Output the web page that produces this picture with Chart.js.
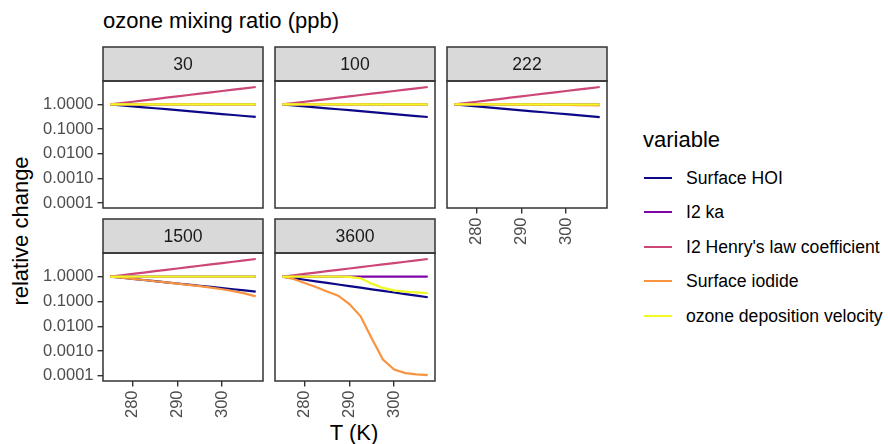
<!DOCTYPE html>
<html>
<head>
<meta charset="utf-8">
<script src="https://cdn.jsdelivr.net/npm/chart.js@4/dist/chart.umd.min.js"></script>
<style>
  body { margin: 0; background: #fff; }
  #wrap { position: relative; width: 888px; height: 444px; overflow: hidden; font-family: "Liberation Sans", Arial, sans-serif; color: #000; }
  #wrap canvas { position: absolute; }
  .txt { position: absolute; white-space: nowrap; line-height: 1; }
  .key { position: absolute; left: 644px; height: 20px; display: flex; align-items: center; font-size: 17.6px; color: #000; white-space: nowrap; }
  .key .swatch { display: inline-block; width: 28px; height: 2px; margin-right: 14px; }
</style>
</head>
<body>
<div id="wrap">
  <div class="txt" style="left:103px; top:10px; font-size:22px;">ozone mixing ratio (ppb)</div>
  <div class="txt" style="left:-79px; top:220px; width:200px; height:22px; text-align:center; font-size:22px; transform:rotate(-90deg);">relative change</div>
  <div class="txt" style="left:254px; top:422px; width:200px; text-align:center; font-size:22px;">T (K)</div>
  <div class="txt" style="left:643px; top:129px; font-size:22px;">variable</div>
</div>
<script>
// temperature (K) on the x axis
const temperature = [275, 277.5, 280, 282.5, 285, 287.5, 290, 292.5, 295, 297.5, 300, 302.5, 305, 307.5];

const ozoneLevels = ['30', '100', '222', '1500', '3600'];
const variableNames = ['Surface HOI', 'I2 ka', "I2 Henry's law coefficient", 'Surface iodide', 'ozone deposition velocity'];
const variableColors = ['#0D0887', '#7E03A8', '#CC4678', '#F89441', '#F0F921'];

const xTicks = [280, 290, 300];
const yTicks = [1, 0.1, 0.01, 0.001, 0.0001];
const yTickLabels = ['1.0000', '0.1000', '0.0100', '0.0010', '0.0001'];

// series (relative change)
const henry = [1, 1.133, 1.285, 1.456, 1.651, 1.871, 2.121, 2.404, 2.725, 3.089, 3.501, 3.969, 4.499, 5.1];
const i2ka = [1, 1, 1, 1, 1, 1, 1, 1, 1, 1, 1, 1, 1, 1];

const hoi30 = [1, 0.914, 0.835, 0.763, 0.698, 0.638, 0.583, 0.533, 0.487, 0.445, 0.406, 0.371, 0.339, 0.31];
const hoi100 = [1, 0.913, 0.834, 0.762, 0.696, 0.636, 0.581, 0.531, 0.485, 0.443, 0.404, 0.369, 0.337, 0.308];
const hoi222 = [1, 0.912, 0.832, 0.759, 0.693, 0.632, 0.577, 0.526, 0.48, 0.438, 0.4, 0.365, 0.333, 0.304];
const hoi1500 = [1, 0.899, 0.808, 0.727, 0.653, 0.587, 0.528, 0.475, 0.427, 0.384, 0.345, 0.31, 0.279, 0.25];
const hoi3600 = [1, 0.863, 0.745, 0.643, 0.555, 0.479, 0.413, 0.357, 0.308, 0.266, 0.229, 0.198, 0.171, 0.147];

const iodide30 = [1, 1, 1, 1, 0.999, 0.999, 0.998, 0.998, 0.997, 0.996, 0.995, 0.994, 0.993, 0.992];
const iodide100 = [1, 1, 0.999, 0.999, 0.998, 0.997, 0.996, 0.994, 0.992, 0.99, 0.987, 0.984, 0.98, 0.976];
const iodide222 = [1, 0.999, 0.998, 0.996, 0.994, 0.99, 0.985, 0.98, 0.972, 0.963, 0.952, 0.94, 0.93, 0.92];
const iodide1500 = [1, 0.9, 0.81, 0.73, 0.65, 0.58, 0.52, 0.46, 0.41, 0.36, 0.31, 0.26, 0.21, 0.16];
const iodide3600 = [1, 0.8, 0.55, 0.38, 0.25, 0.17, 0.078, 0.025, 0.0032, 0.00046, 0.00018, 0.00013, 0.000115, 0.000107];

const depVel30 = [1, 1, 1, 1, 1, 1, 1, 1, 1, 1, 1, 1, 1, 1];
const depVel100 = [1, 1, 1, 1, 1, 1, 1, 1, 1, 1, 1, 1, 1, 1];
const depVel222 = [1, 1, 1, 1, 1, 1, 1, 1, 1, 1, 1, 1, 1, 1];
const depVel1500 = [1, 1, 1, 1, 1, 1, 1, 1, 1, 1, 1, 1, 1, 1];
const depVel3600 = [1, 1, 1, 1, 1, 0.995, 0.975, 0.85, 0.52, 0.35, 0.28, 0.25, 0.23, 0.215];

const panelSeries = {
  '30': [hoi30, i2ka, henry, iodide30, depVel30],
  '100': [hoi100, i2ka, henry, iodide100, depVel100],
  '222': [hoi222, i2ka, henry, iodide222, depVel222],
  '1500': [hoi1500, i2ka, henry, iodide1500, depVel1500],
  '3600': [hoi3600, i2ka, henry, iodide3600, depVel3600],
};

const FONT = '"Liberation Sans", Arial, sans-serif';
const TICK_SIZE = 16.5;
const PLOT_W = 160;
const colLeft = [103, 275, 447];
const rowTop = [81, 253];
const rowHeight = [127, 128];
const STRIP_H = 34;
const Y_AXIS_W = 66;
const X_AXIS_H = 48;

const wrap = document.getElementById('wrap');

// grey strip + dark panel border, like ggplot's theme_bw facets
const facetFrame = {
  id: 'facetFrame',
  afterDatasetsDraw(chart, args, opts) {
    const { ctx, chartArea: a } = chart;
    ctx.save();
    ctx.fillStyle = '#D9D9D9';
    ctx.fillRect(a.left, a.top - STRIP_H, a.width, STRIP_H);
    ctx.strokeStyle = '#333333';
    ctx.lineWidth = 1.5;
    ctx.strokeRect(a.left, a.top - STRIP_H, a.width, STRIP_H);
    ctx.strokeRect(a.left, a.top, a.width, a.height);
    ctx.fillStyle = '#1A1A1A';
    ctx.font = '17.6px ' + FONT;
    ctx.textAlign = 'center';
    ctx.textBaseline = 'middle';
    ctx.fillText(opts.label, (a.left + a.right) / 2, a.top - STRIP_H / 2 + 1);
    ctx.restore();
  }
};

function makePanel(level, col, row, showY, showX) {
  const padTop = STRIP_H + 10;
  const padBottom = showX ? 0 : 16;
  const padLeft = 3, padRight = 4;
  const axisW = showY ? Y_AXIS_W : 0;
  const axisH = showX ? X_AXIS_H : 0;
  const plotH = rowHeight[row];
  const w = padLeft + axisW + PLOT_W + padRight;
  const h = padTop + plotH + axisH + padBottom;

  const canvas = document.createElement('canvas');
  canvas.width = w;
  canvas.height = h;
  canvas.style.left = (colLeft[col] - axisW - padLeft) + 'px';
  canvas.style.top = (rowTop[row] - padTop) + 'px';
  wrap.appendChild(canvas);

  const series = panelSeries[level];

  return new Chart(canvas, {
    type: 'line',
    data: {
      datasets: series.map((vals, i) => ({
        label: variableNames[i],
        data: temperature.map((t, j) => ({ x: t, y: vals[j] })),
        borderColor: variableColors[i],
        borderWidth: 2.2,
        pointRadius: 0,
        tension: 0,
        fill: false,
        order: variableNames.length - i,
      })),
    },
    options: {
      responsive: false,
      animation: false,
      events: [],
      layout: { padding: { top: padTop, bottom: padBottom, left: padLeft, right: padRight } },
      plugins: {
        legend: { display: false },
        tooltip: { enabled: false },
        facetFrame: { label: level },
      },
      scales: {
        x: {
          type: 'linear',
          min: 273.375,
          max: 309.125,
          display: showX,
          afterBuildTicks: (s) => { s.ticks = xTicks.map((v) => ({ value: v })); },
          afterFit: (s) => { if (showX) s.height = X_AXIS_H; },
          grid: { display: true, drawOnChartArea: false, drawTicks: true, tickLength: 5.5, color: '#333333', lineWidth: 1.4 },
          border: { display: false },
          ticks: {
            autoSkip: false,
            minRotation: 90,
            maxRotation: 90,
            padding: 4,
            color: '#4D4D4D',
            font: { family: FONT, size: TICK_SIZE },
          },
        },
        y: {
          type: 'logarithmic',
          min: 6.25e-5,
          max: 8.91,
          display: showY,
          afterBuildTicks: (s) => { s.ticks = yTicks.map((v) => ({ value: v })); },
          afterFit: (s) => { if (showY) s.width = Y_AXIS_W; },
          grid: { display: true, drawOnChartArea: false, drawTicks: true, tickLength: 5.5, color: '#333333', lineWidth: 1.4 },
          border: { display: false },
          ticks: {
            padding: 4,
            color: '#4D4D4D',
            font: { family: FONT, size: TICK_SIZE },
            callback: (value, index) => yTickLabels[index],
          },
        },
      },
    },
    plugins: [facetFrame],
  });
}

makePanel('30', 0, 0, true, false);
makePanel('100', 1, 0, false, false);
makePanel('222', 2, 0, false, true);
makePanel('1500', 0, 1, true, true);
makePanel('3600', 1, 1, false, true);

// legend
const legendCenters = [178, 212, 247, 281, 316];
variableNames.forEach((name, i) => {
  const item = document.createElement('div');
  item.className = 'key';
  item.style.top = (legendCenters[i] - 10) + 'px';
  const sw = document.createElement('span');
  sw.className = 'swatch';
  sw.style.background = variableColors[i];
  const label = document.createElement('span');
  label.textContent = name;
  item.appendChild(sw);
  item.appendChild(label);
  wrap.appendChild(item);
});
</script>
</body>
</html>
